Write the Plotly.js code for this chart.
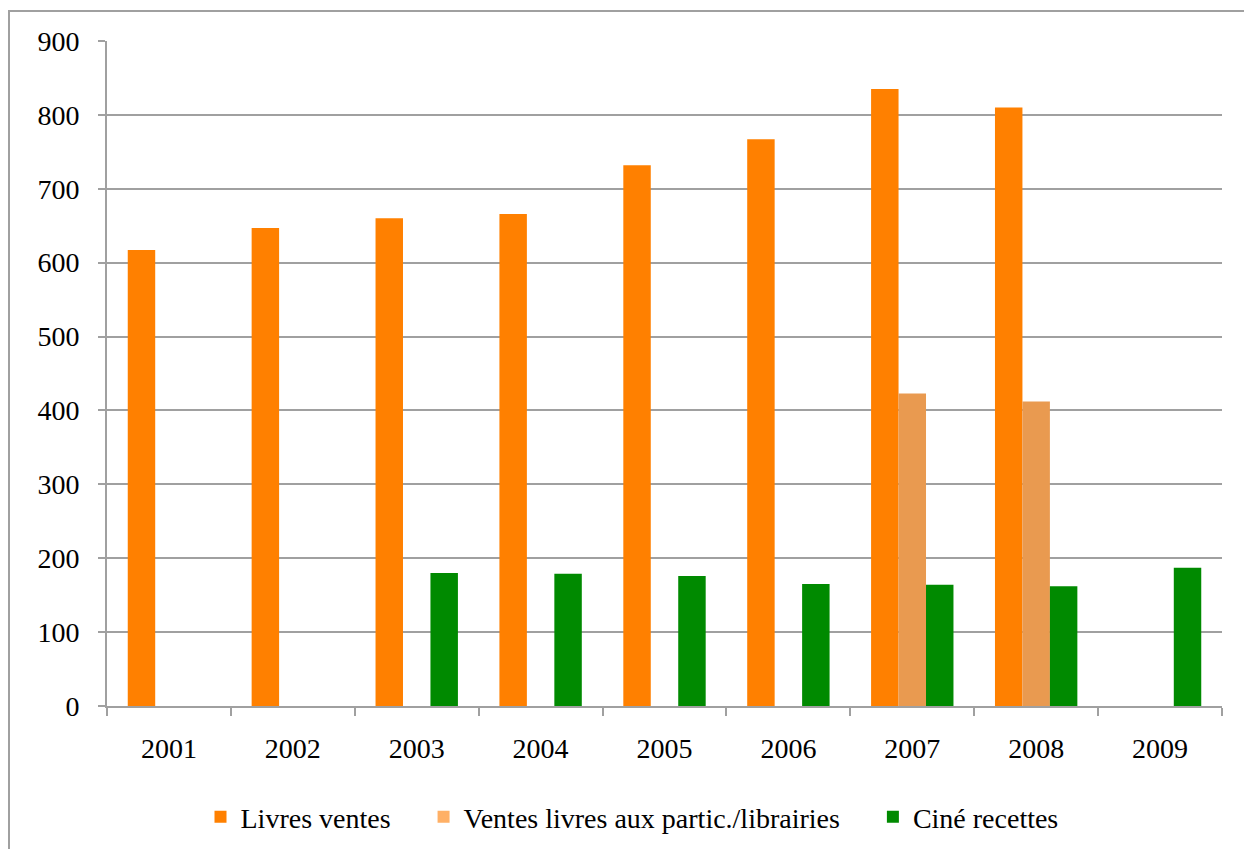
<!DOCTYPE html>
<html>
<head>
<meta charset="utf-8">
<script src="https://cdn.plot.ly/plotly-3.0.1.min.js"></script>
<style>html,body{margin:0;padding:0;background:#fff;}#chart{width:1244px;height:849px;}</style>
</head>
<body>
<div id="chart"></div>
<script>
var years = ["2001","2002","2003","2004","2005","2006","2007","2008","2009"];
var livresVentes = [617, 647, 660, 666, 732, 767, 835, 810, null];
var ventesPartic = [null, null, null, null, null, null, 423, 412, null];
var cineRecettes = [null, null, 180, 179, 176, 165, 164, 162, 187];
var seriesNames = ["Livres ventes", "Ventes livres aux partic./librairies", "Ciné recettes"];

var W = 1244, H = 849, L = 107, R = 22, T = 41, B = 143;
var pw = W - L - R, ph = H - T - B;
function px(x){ return (x - L) / pw; }
function py(y){ return (H - B - y) / ph; }
var pad = "\u00a0\u00a0\u00a0\u00a0";

var traces = [
  {type:"bar", x:years, y:livresVentes, name:seriesNames[0] + pad, offsetgroup:"a", marker:{color:"#FF8000"}, hoverinfo:"x+y"},
  {type:"bar", x:years, y:ventesPartic, name:seriesNames[1], offsetgroup:"b", marker:{color:"#E99A50"}, showlegend:false, hoverinfo:"x+y"},
  {type:"bar", x:years, y:cineRecettes, name:seriesNames[2], offsetgroup:"c", marker:{color:"#008A00"}, showlegend:false, hoverinfo:"x+y"},
  {type:"bar", x:[years[0]], y:[null], name:seriesNames[1] + pad, offsetgroup:"b", marker:{color:"#FFB066"}, showlegend:true, hoverinfo:"skip"},
  {type:"bar", x:[years[0]], y:[null], name:seriesNames[2], offsetgroup:"c", marker:{color:"#008A00"}, showlegend:true, hoverinfo:"skip"}
];

var font = "Liberation Serif, Times New Roman, serif";
var layout = {
  width: W, height: H,
  margin: {l: L, r: R, t: T, b: B, pad: 0, autoexpand: false},
  paper_bgcolor: "#fff", plot_bgcolor: "#fff",
  barmode: "group", bargap: 0.335, bargroupgap: 0,
  font: {family: font, size: 28, color: "#000"},
  xaxis: {
    type: "category", tickson: "boundaries", ticks: "outside", ticklen: 8, tickwidth: 2,
    tickcolor: "#A0A0A0", showline: true, linecolor: "#A0A0A0", linewidth: 2,
    showgrid: false, ticklabelstandoff: 16, tickfont: {family: font, size: 28},
    fixedrange: true, automargin: false
  },
  yaxis: {
    range: [0, 900], dtick: 100, tick0: 0, ticks: "outside", ticklen: 7, tickwidth: 2,
    tickcolor: "#A0A0A0", showline: true, linecolor: "#A0A0A0", linewidth: 2,
    showgrid: true, gridcolor: "#A0A0A0", gridwidth: 2, zeroline: false,
    ticklabelstandoff: 13, tickfont: {family: font, size: 28},
    fixedrange: true, automargin: false
  },
  legend: {
    orientation: "h", x: px(632), xanchor: "center", y: py(817), yanchor: "middle",
    font: {family: font, size: 28}, traceorder: "normal", itemwidth: 30,
    bgcolor: "rgba(0,0,0,0)"
  },
  shapes: [
    {type: "rect", xref: "paper", yref: "paper", x0: px(9), x1: px(1260), y0: py(860), y1: py(11),
     line: {color: "#A0A0A0", width: 2}, fillcolor: "rgba(0,0,0,0)", layer: "below"}
  ],
  showlegend: true
};

Plotly.newPlot("chart", traces, layout, {displayModeBar: false, staticPlot: true});
</script>
</body>
</html>
